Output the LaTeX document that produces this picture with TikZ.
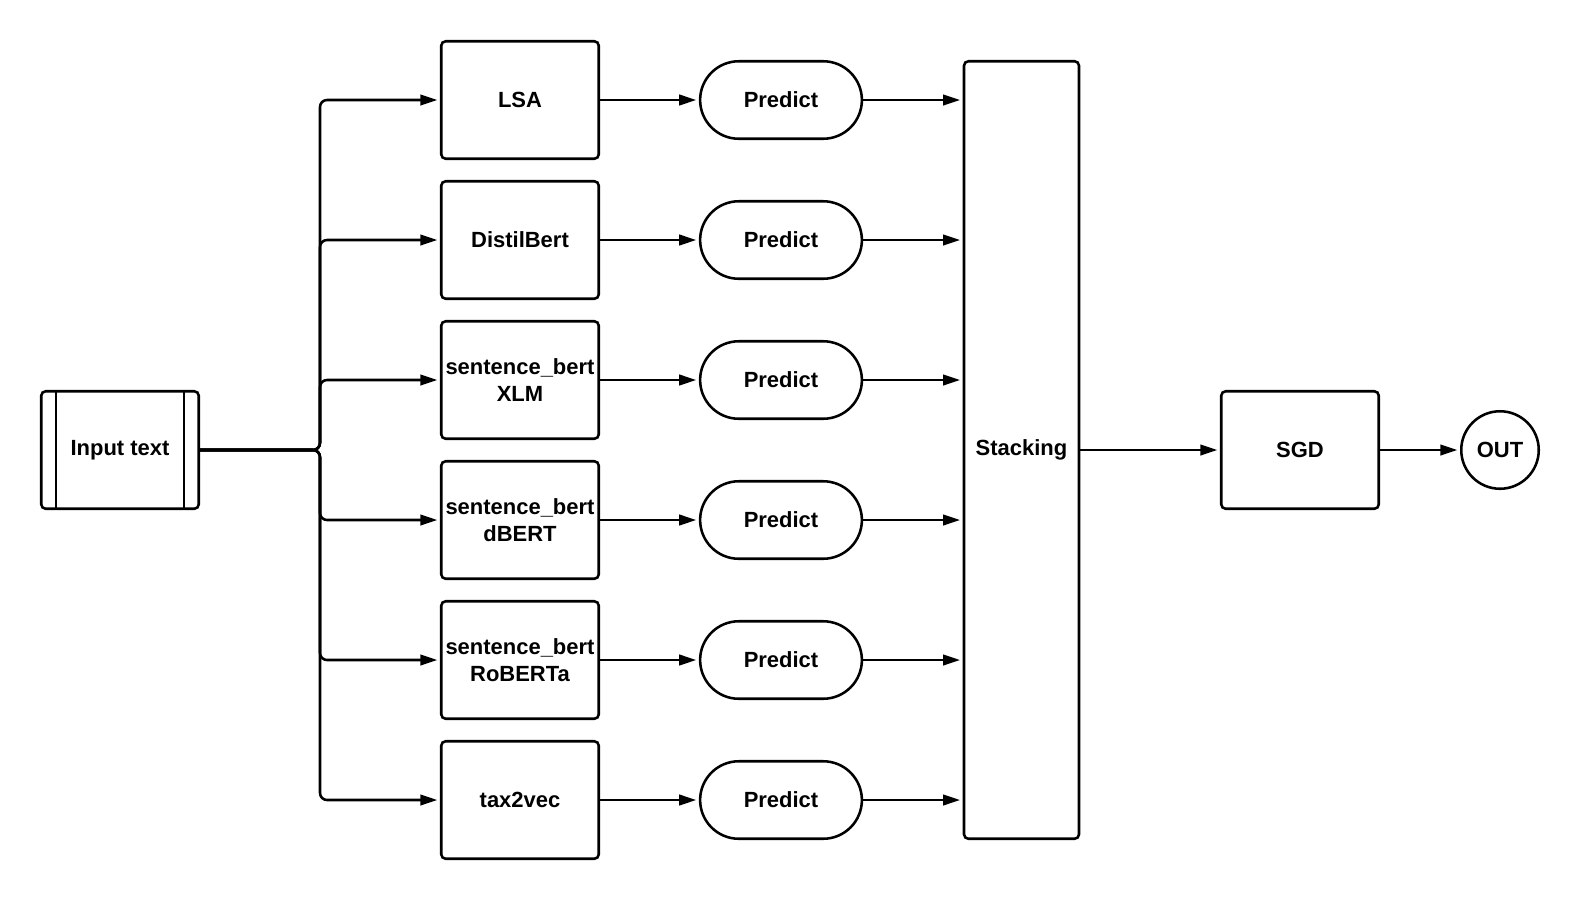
\documentclass[tikz,border=0pt]{standalone}
\usepackage{fontspec}
\setmainfont{Liberation Sans}
\usetikzlibrary{arrows.meta, positioning, shapes.misc}

\begin{document}
\begin{tikzpicture}[
    box/.style={rectangle, draw=black, line width=1.45pt, rounded corners=2.5pt,
                minimum width=3.15cm, minimum height=2.35cm,
                font=\fontsize{12.5}{15}\selectfont\bfseries, align=center,
                inner sep=1pt},
    pred/.style={rounded rectangle, draw=black, line width=1.45pt,
                 minimum width=3.47cm, minimum height=1.55cm,
                 font=\fontsize{12.5}{15}\selectfont\bfseries},
    arr/.style={-{Triangle[length=0.34cm, width=0.21cm]}, line width=1.45pt,
                shorten >=1.5pt},
  ]
    \useasboundingbox (0,0) rectangle (31.6,-18);

    % Eingang
    \node[box] (inp) at (2.4,-9) {Input text};
    \draw[line width=1.45pt] ([xshift=0.32cm]inp.north west) -- ([xshift=0.32cm]inp.south west);
    \draw[line width=1.45pt] ([xshift=-0.32cm]inp.north east) -- ([xshift=-0.32cm]inp.south east);
    \coordinate (br) at (6.4,-9);

    % Modelle und Vorhersagen
    \foreach \i/\y/\txt in {1/-2/LSA, 2/-4.8/DistilBert,
        3/-7.6/{sentence\_bert\\XLM}, 4/-10.4/{sentence\_bert\\dBERT},
        5/-13.2/{sentence\_bert\\RoBERTa}, 6/-16/tax2vec} {
      \node[box] (m\i) at (10.4,\y) {\txt};
      \node[pred] (p\i) at (15.62,\y) {Predict};
    }

    % Stacking, SGD, Ausgang
    \node[box, minimum width=2.3cm, minimum height=15.55cm] (st) at (20.43,-9) {Stacking};
    \node[box] (sgd) at (26,-9) {SGD};
    \node[circle, draw=black, line width=1.45pt, minimum size=1.55cm,
          font=\fontsize{12.5}{15}\selectfont\bfseries, inner sep=0pt] (out) at (30,-9) {OUT};

    % Pfeile
    \foreach \i in {1,...,6} {
      \draw[arr, rounded corners=4pt] (inp.east) -- (br) |- (m\i.west);
      \draw[arr] (m\i.east) -- (p\i.west);
      \draw[arr] (p\i.east) -- (p\i.east -| st.west);
    }
    \draw[arr] (st.east) -- (sgd.west);
    \draw[arr] (sgd.east) -- (out.west);
\end{tikzpicture}
\end{document}
